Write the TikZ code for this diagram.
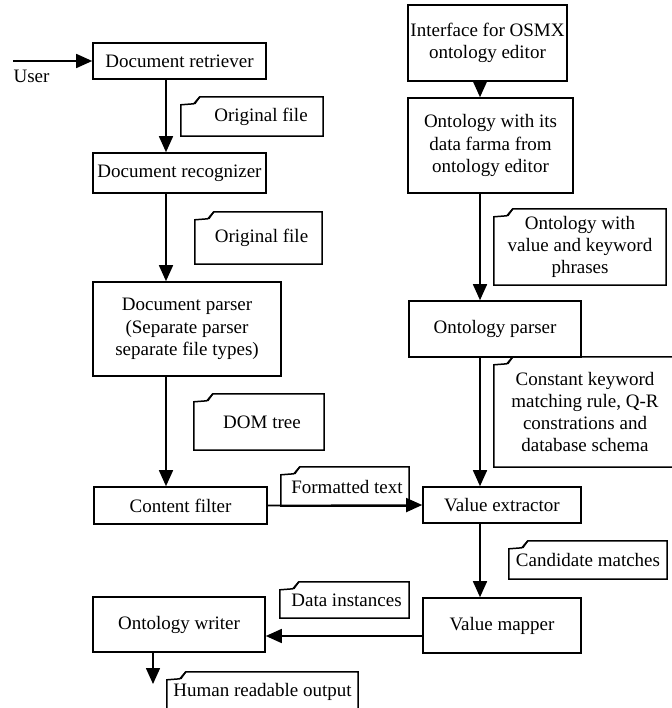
\documentclass[tikz,border=0pt]{standalone}
\usepackage{fontspec}
\setmainfont{Liberation Serif}
\usepackage{tikz}
\usetikzlibrary{arrows.meta}
\usetikzlibrary{positioning}
\usetikzlibrary{calc}
\tikzset{
    every node/.style={font=\fontsize{19}{22.3}\selectfont},
    box/.style={draw=black, line width=1.6pt, align=center, inner sep=0pt},
    note/.style={align=center, inner sep=0pt},
    noteline/.style={draw=black, line width=1.5pt, line join=miter},
    flow/.style={draw=black, line width=1.6pt, -{Triangle[width=14pt 0,length=16pt 0]}}
}
% outline of a note with its top left corner folded
\newcommand{\dogear}[1]{%
    \draw[noteline] (#1.south west) -- ($(#1.north west)+(0,8)$) -- ($(#1.north west)+(13,7)$)
        -- ($(#1.north west)+(19,0)$) -- (#1.north east) -- (#1.south east) -- cycle;
    \draw[noteline] ($(#1.north west)+(19,0)$) -- ($(#1.north west)+(14,7)$);
}
\begin{document}
\begin{tikzpicture}[x=1pt,y=-1pt]
    \useasboundingbox (0,0) rectangle (671,708);
    % left column
    \node[box, minimum width=173pt, minimum height=36pt] (retr) at (179.5,61) {Document retriever};
    \node[box, minimum width=173pt, minimum height=40pt] (recog) at (179.5,173) {Document recognizer};
    \node[box, minimum width=188pt, minimum height=94pt] (parser) at (187,329) {Document parser\\(Separate parser\\separate file types)};
    \node[box, minimum width=173pt, minimum height=37pt] (filt) at (180.5,505.5) {Content filter};
    \node[box, minimum width=172pt, minimum height=55pt] (writ) at (179,624.5) {Ontology writer};
    % right column
    \node[box, minimum width=159pt, minimum height=76pt] (osmx) at (487.5,43) {Interface for OSMX\\ontology editor};
    \node[box, minimum width=165pt, minimum height=95pt] (ontd) at (490.5,145.5) {Ontology with its\\data farma from\\ontology editor};
    \node[box, minimum width=172pt, minimum height=56pt] (opars) at (495,329) {Ontology parser};
    \node[box, minimum width=158pt, minimum height=36pt] (ext) at (502,505) {Value extractor};
    \node[box, minimum width=158pt, minimum height=55pt] (map) at (502,625.5) {Value mapper};
    % notes
    \node[note, minimum width=142pt, minimum height=39pt] (orig1) at (252,116.5) {\hspace{18pt}Original file};
    \node[note, minimum width=127pt, minimum height=52pt] (orig2) at (258.5,238) {\hspace{6pt}Original file};
    \node[note, minimum width=130pt, minimum height=56pt] (dom) at (259,422) {\hspace{6pt}DOM tree};
    \node[note, minimum width=128pt, minimum height=39pt] (fmt) at (345,486.5) {\hspace{4pt}Formatted text};
    \node[note, minimum width=172pt, minimum height=76pt] (kwph) at (580,247) {Ontology with\\value and keyword\\phrases};
    \node[note, minimum width=182pt, minimum height=110pt] (rules) at (585,412) {Constant keyword\\matching rule, Q-R\\constrations and\\database schema};
    \node[note, minimum width=158pt, minimum height=38pt] (cand) at (588,560) {Candidate matches};
    \node[note, minimum width=129pt, minimum height=36pt] (inst) at (344.5,600) {\hspace{4pt}Data instances};
    \node[note, minimum width=191pt, minimum height=40pt] (human) at (262.5,692) {Human readable output};
    \dogear{orig1}
    \dogear{orig2}
    \dogear{dom}
    \dogear{fmt}
    \dogear{kwph}
    \dogear{rules}
    \dogear{cand}
    \dogear{inst}
    \dogear{human}
    % connectors
    \coordinate (user) at (13,61);
    \node (userlbl) at (31.5,76) {User};
    \coordinate (lx) at (166,0);
    \coordinate (rx) at (480,0);
    \coordinate (wy) at (0,636);
    \coordinate (out) at (153,684);
    \draw[flow] (user) -- (retr.west);
    \draw[flow] (retr.south -| lx) -- (recog.north -| lx);
    \draw[flow] (recog.south -| lx) -- (parser.north -| lx);
    \draw[flow] (parser.south -| lx) -- (filt.north -| lx);
    \draw[flow] (filt.east) -- (ext.west);
    \draw[flow] (osmx.south -| rx) -- (ontd.north -| rx);
    \draw[flow] (ontd.south -| rx) -- (opars.north -| rx);
    \draw[flow] (opars.south -| rx) -- (ext.north -| rx);
    \draw[flow] (ext.south -| rx) -- (map.north -| rx);
    \draw[flow] (map.west |- wy) -- (writ.east |- wy);
    \draw[flow] (writ.south -| out) -- (out);
\end{tikzpicture}
\end{document}
